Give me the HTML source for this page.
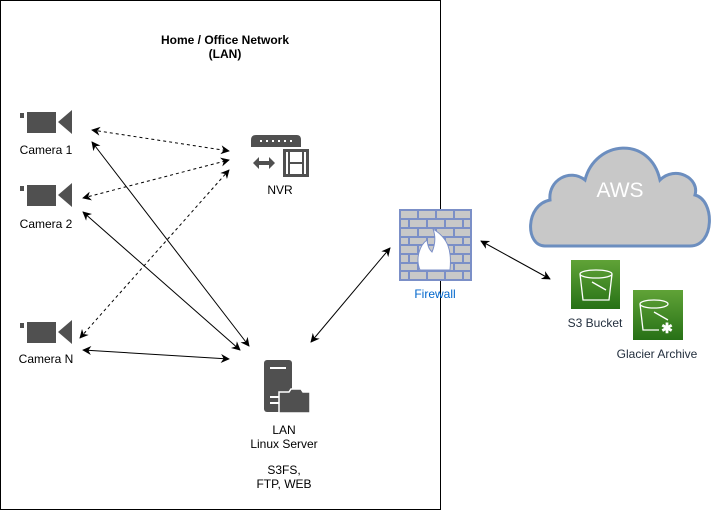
<!DOCTYPE html>
<html><head><style>body{margin:0;background:#fff}svg{display:block;font-family:"Liberation Sans",Arial,sans-serif}</style></head>
<body>
<svg width="712" height="511" viewBox="0 0 712 511">
<defs>
<marker id="a" viewBox="0 0 10 10" refX="9" refY="5" markerWidth="9" markerHeight="9" orient="auto-start-reverse" markerUnits="userSpaceOnUse"><path d="M0,0 L10,5 L0,10 L3,5 z" fill="#000"/></marker>
<linearGradient id="g" x1="0" y1="1" x2="0" y2="0"><stop offset="0" stop-color="#277116"/><stop offset="1" stop-color="#60a337"/></linearGradient>
</defs>
<rect x="0.5" y="0.5" width="440" height="509" fill="none" stroke="#000"/>
<text x="225" y="44" text-anchor="middle" font-size="12" font-weight="bold">Home / Office Network</text>
<text x="225" y="58" text-anchor="middle" font-size="12" font-weight="bold">(LAN)</text>
<g fill="#505050">
<g><rect x="20" y="113" width="4" height="5"/><rect x="27" y="112" width="29" height="21"/><path d="M58,122 L72,110 L72,134 z"/></g>
<g transform="translate(0,73)"><rect x="20" y="113" width="4" height="5"/><rect x="27" y="112" width="29" height="21"/><path d="M58,122 L72,110 L72,134 z"/></g>
<g transform="translate(0,210)"><rect x="20" y="113" width="4" height="5"/><rect x="27" y="112" width="29" height="21"/><path d="M58,122 L72,110 L72,134 z"/></g>
</g>
<g font-size="12" text-anchor="middle" fill="#000">
<text x="46" y="154">Camera 1</text>
<text x="46" y="228">Camera 2</text>
<text x="46" y="363">Camera N</text>
<text x="280" y="194">NVR</text>
<text x="284" y="434">LAN</text>
<text x="284" y="448">Linux Server</text>
<text x="284" y="474">S3FS,</text>
<text x="284" y="488">FTP, WEB</text>
<text x="595" y="327" fill="#232F3E">S3 Bucket</text>
<text x="657" y="358" fill="#232F3E">Glacier Archive</text>
<text x="435" y="298" fill="#0066CC">Firewall</text>
</g>
<g fill="#505050">
<path d="M251,140 Q251,135 256,135 L297,135 Q301,135 301,140 L301,147 L251,147 z"/>
<g fill="#fff"><rect x="260" y="140" width="2" height="2"/><rect x="266" y="140" width="2" height="2"/><rect x="272" y="140" width="2" height="2"/><rect x="278" y="140" width="2" height="2"/><rect x="284" y="140" width="2" height="2"/><rect x="290" y="140" width="2" height="2"/></g>
<path d="M253,163 L259,157 L259,161 L269,161 L269,157 L275,163 L269,169 L269,165 L259,165 L259,169 z"/>
<path d="M283,149 h26 v28 h-26 z M286,152 v22 h2 v-22 z M304,152 v22 h2 v-22 z" fill-rule="evenodd"/>
<rect x="290" y="152" width="12" height="10" fill="#fff"/><rect x="290" y="164" width="12" height="10" fill="#fff"/>
</g>
<g fill="#505050">
<rect x="264" y="360" width="28" height="52" rx="3"/>
<rect x="270" y="367" width="16" height="2" fill="#fff"/>
<rect x="270" y="396" width="10" height="2" fill="#fff"/><rect x="270" y="402" width="10" height="2" fill="#fff"/>
<path d="M279,392 h10 l2,-3 h10 l2,3 h7 v21 h-31 z" stroke="#fff" stroke-width="1.5"/>
</g>
<g>
<rect x="400" y="210" width="71" height="70" fill="#c8c8c8" stroke="#7b8fc7" stroke-width="2"/>
<g stroke="#7b8fc7" stroke-width="2">
<line x1="400" y1="219" x2="471" y2="219"/><line x1="400" y1="228" x2="471" y2="228"/><line x1="400" y1="237" x2="471" y2="237"/><line x1="400" y1="245" x2="471" y2="245"/><line x1="400" y1="254" x2="471" y2="254"/><line x1="400" y1="263" x2="471" y2="263"/><line x1="400" y1="271" x2="471" y2="271"/>
<path d="M418,210v9M436,210v9M454,210v9M409,219v9M427,219v9M445,219v9M463,219v9M418,228v9M436,228v9M454,228v9M409,237v8M427,237v8M445,237v8M463,237v8M418,245v9M436,245v9M454,245v9M409,254v9M427,254v9M445,254v9M463,254v9M418,263v8M436,263v8M454,263v8M409,271v9M427,271v9M445,271v9M463,271v9"/>
</g>
<path d="M433,229 C448,238 452,250 450,270 L420,270 C415,258 420,245 427,240 C428,248 430,250 432,252 C435,245 436,237 433,229 z" fill="#fff" stroke="#7b8fc7"/>
</g>
<path d="M545,246 C525,246 525,205 550,200 C548,180 570,168 585,180 C595,140 650,135 660,180 C675,165 700,178 695,195 C715,200 715,246 690,246 z" fill="#c8c8c8" stroke="#6c8ebf" stroke-width="3"/>
<text x="620" y="197" text-anchor="middle" font-size="21" fill="#fff">AWS</text>
<rect x="571" y="260" width="49" height="49" fill="url(#g)"/>
<path d="M580,274 a16,4 0 0 0 32,0 a16,4 0 0 0 -32,0 l3,26 h26 l3,-26 M592,282 l14,8" fill="none" stroke="#fff" stroke-width="1.3"/>
<rect x="633" y="290" width="50" height="50" fill="url(#g)"/>
<path d="M640,304 a14,4 0 0 0 28,0 a14,4 0 0 0 -28,0 l3,26 h16 M654,312 l14,8" fill="none" stroke="#fff" stroke-width="1.3"/>
<text x="667" y="333" text-anchor="middle" font-size="14" fill="#fff" font-weight="bold">✱</text>
<g stroke="#000" fill="none" marker-start="url(#a)" marker-end="url(#a)">
<g stroke-dasharray="3,3"><line x1="92" y1="130" x2="229" y2="151"/><line x1="83" y1="198" x2="229" y2="160"/><line x1="80" y1="338" x2="229" y2="170"/></g>
<line x1="92" y1="142" x2="249" y2="346"/>
<line x1="83" y1="212" x2="240" y2="350"/>
<line x1="83" y1="350" x2="229" y2="359"/>
<line x1="311" y1="342" x2="390" y2="248"/>
<line x1="481" y1="241" x2="550" y2="279"/>
</g>
</svg>
</body></html>
